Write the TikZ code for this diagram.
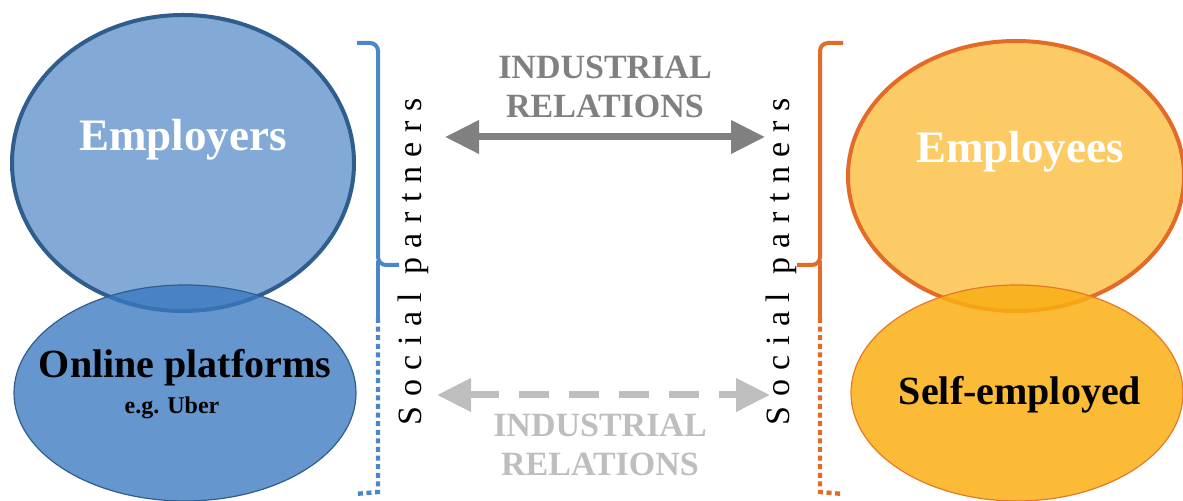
\documentclass[tikz,border=0pt]{standalone}
\usepackage{fontspec}
\setmainfont{Liberation Serif}
\usetikzlibrary{positioning,arrows.meta,shapes.geometric}

\definecolor{empblue}{RGB}{58,120,192}
\definecolor{edgeblue}{RGB}{47,94,142}
\definecolor{braceblue}{RGB}{74,134,200}
\definecolor{empgold}{RGB}{250,175,20}
\definecolor{edgeorange}{RGB}{228,106,40}
\definecolor{irgray}{RGB}{128,128,128}
\definecolor{irlight}{RGB}{190,190,190}

\begin{document}
\begin{tikzpicture}[x=0.5pt,y=0.5pt,
    group node/.style={ellipse,inner sep=0pt,outer sep=0pt},
    big text/.style={font=\fontsize{22.5}{26}\selectfont\bfseries,text=white},
    sub text/.style={font=\fontsize{20}{24}\selectfont\bfseries,text=black},
    ir text/.style={font=\fontsize{17}{20}\selectfont\bfseries,inner sep=0pt},
    partner text/.style={font=\fontsize{17}{20}\selectfont\addfontfeature{LetterSpace=28},rotate=90,inner sep=0pt},
    ir arrow/.style={line width=3.5pt,{Triangle[length=17pt,width=16pt]}-{Triangle[length=17pt,width=16pt]}}]

    \useasboundingbox (0,0) rectangle (1183,501);
    \clip (0,0) rectangle (1183,501);

    % the four groups
    \node[group node][minimum width=171pt,minimum height=148pt,fill=empblue,fill opacity=0.63,draw=edgeblue,line width=2pt](employers) at (183,338){};
    \node[group node][minimum width=171pt,minimum height=108pt,fill=empblue,fill opacity=0.78,draw=edgeblue,line width=0.6pt](platforms) at (185,108){};
    \node[group node][minimum width=168pt,minimum height=135pt,fill=empgold,fill opacity=0.65,draw=edgeorange,line width=2pt](employees) at (1016,325){};
    \node[group node][minimum width=166pt,minimum height=108pt,fill=empgold,fill opacity=0.85,draw=edgeorange!80!empgold,line width=0.6pt](selfemp) at (1017,108){};

    \node[big text](employerstxt) at (183,361){Employers};
    \node[big text](employeestxt) at (1020,349){Employees};
    \node[sub text](platformstxt) at (185,133){Online platforms};
    \node[font=\fontsize{12}{14}\selectfont\bfseries](ubertxt) at (172,93){e.g. Uber};
    \node[sub text](selfemptxt) at (1020,106){Self-employed};

    % braces
    \draw[braceblue,line width=2pt,rounded corners=4pt] (357,458) -| (378,236) -- (399,236);
    \draw[braceblue,line width=2pt] (378,240) -- (378,183);
    \draw[braceblue,line width=2.2pt,dash pattern=on 2.5pt off 1.8pt] (378,183) -- (378,9) -- (355,7);
    \draw[edgeorange,line width=2pt,rounded corners=4pt] (843,458) -| (820,236) -- (797,236);
    \draw[edgeorange,line width=2pt] (820,240) -- (820,183);
    \draw[edgeorange,line width=2.2pt,dash pattern=on 2.5pt off 1.8pt] (820,183) -- (820,9) -- (843,7);

    \node[partner text](partnersL) at (413,239){Social partners};
    \node[partner text](partnersR) at (781,239){Social partners};

    % industrial relations
    \node[ir text,text=irgray](irtop) at (605,434){INDUSTRIAL};
    \node[ir text,text=irgray](irtop2)[below=8pt of irtop]{RELATIONS};
    \node[ir text,text=irlight](irbot) at (600,76){INDUSTRIAL};
    \node[ir text,text=irlight](irbot2)[below=8pt of irbot]{RELATIONS};

    \coordinate (topL) at (445,364);
    \coordinate (topR) at (765,364);
    \coordinate (botL) at (437,106);
    \coordinate (botR) at (770,106);

    \draw[ir arrow,irgray] (topL) -- (topR);
    \draw[ir arrow,irlight,dash pattern=on 15pt off 10pt] (botL) -- (botR);

\end{tikzpicture}
\end{document}
